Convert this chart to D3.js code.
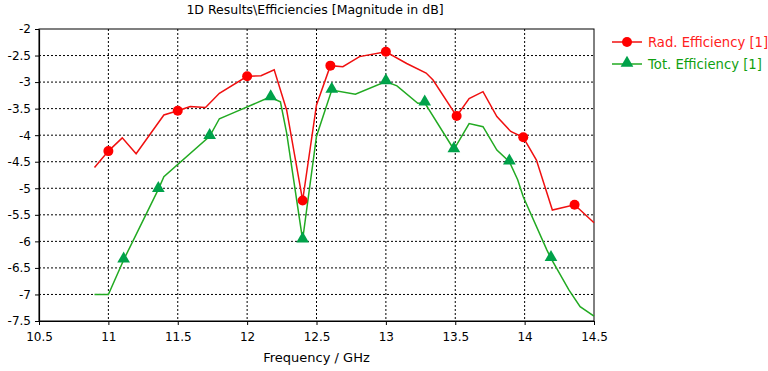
<!DOCTYPE html>
<html>
<head>
<meta charset="utf-8">
<script src="https://cdn.jsdelivr.net/npm/d3@7"></script>
<style>
  body { margin: 0; background: #fff; }
  svg text { font-family: "DejaVu Sans", Verdana, sans-serif; }
  .grid line { stroke: #000; stroke-dasharray: 2,2; stroke-width: 1; }
  .axis path, .axis line { stroke: #000; }
</style>
</head>
<body>
<svg id="chart"></svg>
<script>
// Rad. Efficiency [1]
const radFreq = [10.90, 11.00, 11.10, 11.20, 11.40, 11.50, 11.59, 11.70, 11.80, 12.00, 12.10, 12.195,
                 12.285, 12.40, 12.50, 12.60, 12.69, 12.81, 13.00, 13.15, 13.29, 13.34, 13.51, 13.60,
                 13.70, 13.80, 13.90, 13.99, 14.085, 14.20, 14.36, 14.50];
const radVal = [-4.61, -4.30, -4.05, -4.35, -3.62, -3.54, -3.46, -3.48, -3.21, -2.89, -2.88, -2.77,
                -3.53, -5.23, -3.43, -2.69, -2.71, -2.52, -2.43, -2.65, -2.83, -2.96, -3.64, -3.31,
                -3.18, -3.65, -3.93, -4.04, -4.47, -5.41, -5.31, -5.65];
const radMarks = [1, 5, 9, 13, 15, 18, 22, 27, 30];

// Tot. Efficiency [1]
const totFreq = [10.90, 11.00, 11.11, 11.36, 11.40, 11.73, 11.80, 11.90, 12.14, 12.17, 12.24, 12.285,
                 12.40, 12.50, 12.61, 12.78, 13.00, 13.08, 13.23, 13.28, 13.49, 13.60, 13.70, 13.80,
                 13.89, 13.95, 13.99, 14.16, 14.19, 14.32, 14.40, 14.50];
const totVal = [-7.0, -7.0, -6.35, -5.02, -4.78, -4.02, -3.69, -3.58, -3.31, -3.29, -3.37, -3.96,
                -5.97, -4.02, -3.15, -3.23, -2.99, -3.07, -3.40, -3.39, -4.27, -3.78, -3.84, -4.28,
                -4.50, -4.84, -5.16, -6.16, -6.32, -6.92, -7.23, -7.41];
const totMarks = [2, 3, 5, 9, 12, 14, 16, 19, 20, 24, 28];

const xTicks = [10.5, 11, 11.5, 12, 12.5, 13, 13.5, 14, 14.5];
const yTicks = [-2, -2.5, -3, -3.5, -4, -4.5, -5, -5.5, -6, -6.5, -7, -7.5];

const seriesNames = ["Rad. Efficiency [1]", "Tot. Efficiency [1]"];
const titleText = "1D Results\\Efficiencies [Magnitude in dB]";
const xLabel = "Frequency / GHz";

const W = 768, H = 371;
const margin = {top: 29, right: 174, bottom: 50, left: 39};
const width = W - margin.left - margin.right;
const height = H - margin.top - margin.bottom;

const svg = d3.select('#chart').attr('width', W).attr('height', H);
const chart = svg.append('g').attr('transform', `translate(${margin.left},${margin.top})`);

const xScale = d3.scaleLinear().domain([10.5, 14.5]).range([0, width]);
const yScale = d3.scaleLinear().domain([-7.5, -2]).range([height, 0]);

// grid
chart.append('g').attr('class', 'grid')
  .selectAll('line').data(xTicks.slice(1, -1)).join('line')
  .attr('x1', d => xScale(d)).attr('x2', d => xScale(d))
  .attr('y1', 0).attr('y2', height);
chart.append('g').attr('class', 'grid')
  .selectAll('line').data(yTicks.slice(1, -1)).join('line')
  .attr('y1', d => yScale(d)).attr('y2', d => yScale(d))
  .attr('x1', 0).attr('x2', width);

// frame
chart.append('rect').attr('width', width).attr('height', height)
  .attr('fill', 'none').attr('stroke', '#000').attr('stroke-width', 1);

// axes
const xAxis = d3.axisBottom(xScale).tickValues(xTicks).tickSize(4).tickSizeOuter(0).tickFormat(d3.format('~g'));
const yAxis = d3.axisLeft(yScale).tickValues(yTicks).tickSize(4).tickSizeOuter(0).tickFormat(d => d3.format('~g')(d).replace('−', '-'));

const xAxisG = chart.append('g').attr('class', 'axis').attr('transform', `translate(0,${height})`).call(xAxis);
xAxisG.selectAll('text').attr('font-size', 12).attr('fill', '#000').attr('dy', '1.1em');
const yAxisG = chart.append('g').attr('class', 'axis').call(yAxis);
yAxisG.selectAll('text').attr('font-size', 12).attr('fill', '#000').attr('x', -8);
svg.selectAll('.axis .domain').attr('stroke-width', 1.2);

// lines
const colors = {rad: '#f01010', radMark: '#ff0000', tot: '#22aa22', totMark: '#00a24a'};
const line = d3.line().x(d => xScale(d[0])).y(d => yScale(d[1]));
const radData = radFreq.map((f, i) => [f, radVal[i]]);
const totData = totFreq.map((f, i) => [f, totVal[i]]);

chart.append('path').datum(totData).attr('d', line)
  .attr('fill', 'none').attr('stroke', colors.tot).attr('stroke-width', 1.5);
chart.append('path').datum(radData).attr('d', line)
  .attr('fill', 'none').attr('stroke', colors.rad).attr('stroke-width', 1.5);

const tri = d3.symbol().type(d3.symbolTriangle).size(70);

chart.selectAll('.rad-mark').data(radMarks.map(i => radData[i])).join('circle')
  .attr('class', 'rad-mark')
  .attr('cx', d => xScale(d[0])).attr('cy', d => yScale(d[1])).attr('r', 5)
  .attr('fill', colors.radMark);
chart.selectAll('.tot-mark').data(totMarks.map(i => totData[i])).join('path')
  .attr('class', 'tot-mark')
  .attr('transform', d => `translate(${xScale(d[0])},${yScale(d[1]) - 1})`)
  .attr('d', tri).attr('fill', colors.totMark);

// title and axis label
svg.append('text').attr('x', 315).attr('y', 14).attr('text-anchor', 'middle')
  .attr('font-size', 12.5).attr('fill', '#000').text(titleText);
svg.append('text').attr('x', margin.left + width / 2).attr('y', 362).attr('text-anchor', 'middle')
  .attr('font-size', 13).attr('fill', '#000').text(xLabel);

// legend
const legend = svg.append('g').attr('transform', 'translate(612,42)');
seriesNames.forEach((name, i) => {
  const g = legend.append('g').attr('transform', `translate(0,${i * 22})`);
  const c = i === 0 ? colors.rad : colors.tot;
  g.append('line').attr('x1', 0).attr('x2', 30).attr('stroke', c).attr('stroke-width', 1.5);
  if (i === 0) {
    g.append('circle').attr('cx', 15).attr('r', 5).attr('fill', colors.radMark);
  } else {
    g.append('path').attr('transform', 'translate(15,-1)').attr('d', tri).attr('fill', colors.totMark);
  }
  g.append('text').attr('x', 36).attr('y', 5).attr('font-size', 13.2)
    .attr('fill', i === 0 ? '#ff2020' : '#10a010').text(name);
});
</script>
</body>
</html>
